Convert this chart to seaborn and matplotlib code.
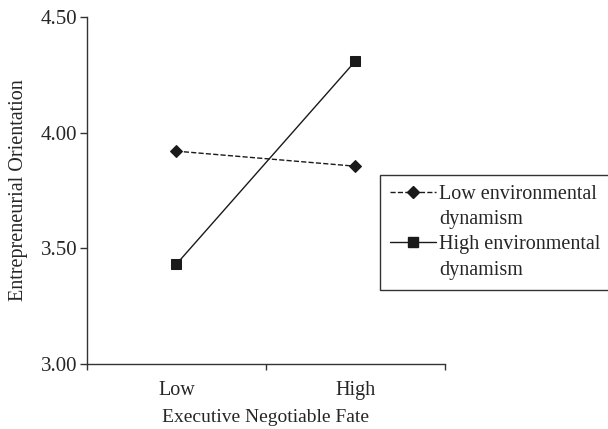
import matplotlib
matplotlib.use("Agg")
import matplotlib.pyplot as plt
from matplotlib.lines import Line2D
import pandas as pd
import seaborn as sns

fate_levels = ["Low", "High"]
dynamism_groups = ["Low environmental dynamism", "High environmental dynamism"]
low_dynamism_eo = [3.92, 3.855]
high_dynamism_eo = [3.432, 4.31]
y_ticks = [3.00, 3.50, 4.00, 4.50]

df = pd.DataFrame({
    "fate": fate_levels * 2,
    "dynamism": [dynamism_groups[0]] * 2 + [dynamism_groups[1]] * 2,
    "eo": low_dynamism_eo + high_dynamism_eo,
})

sns.set_style("ticks")
plt.rcParams["font.family"] = ["Liberation Serif", "DejaVu Serif"]
plt.rcParams["font.size"] = 14

fig = plt.figure(figsize=(6.08, 4.29), dpi=100)
ax = fig.add_axes([87 / 608, 65 / 429, 358 / 608, 347 / 429])

markers = ["D", "s"]
styles = ["--", "-"]
sns.pointplot(df, x="fate", y="eo", hue="dynamism", order=fate_levels, hue_order=dynamism_groups,
              palette=["#1a1a1a", "#1a1a1a"], markers=markers, linestyles=styles,
              linewidth=1, markersize=7, legend=False, ax=ax)
for line, m in zip(ax.lines, markers):
    line.set_markersize(6 if m == "D" else 7)

ax.set_xlim(-0.5, 1.5)
ax.set_ylim(3.0, 4.5)
ax.set_yticks(y_ticks)
ax.set_yticklabels([f"{v:.2f}" for v in y_ticks], fontsize=15)
ax.set_xticks([0, 1])
ax.set_xticklabels(fate_levels, fontsize=14.5)
ax.set_xticks([-0.5, 0.5, 1.5], minor=True)
ax.tick_params(axis="x", which="major", length=0, pad=12)
ax.tick_params(axis="x", which="minor", length=4, width=1, color="#333333")
ax.tick_params(axis="y", length=5, width=1, color="#333333", pad=2)
ax.set_xlabel("Executive Negotiable Fate", fontsize=14, labelpad=7)
ax.set_ylabel("Entrepreneurial Orientation", fontsize=14.5, labelpad=9)
sns.despine(ax=ax)
for s in ["left", "bottom"]:
    ax.spines[s].set_color("#333333")
    ax.spines[s].set_linewidth(1)

blank = Line2D([], [], linestyle="none", marker=None)
handles = [
    Line2D([], [], color="#1a1a1a", linestyle="--", linewidth=1, marker="D", markersize=6),
    blank,
    Line2D([], [], color="#1a1a1a", linestyle="-", linewidth=1, marker="s", markersize=7),
    blank,
]
labels = ["Low environmental", "dynamism", "High environmental", "dynamism"]
fig.legend(handles, labels, loc="upper left", bbox_to_anchor=(380 / 608, 1 - 175 / 429),
           frameon=True, fancybox=False, edgecolor="#333333", framealpha=1,
           fontsize=14.5, handlelength=2.3, handletextpad=0.15, labelspacing=0.3,
           borderpad=0.5, borderaxespad=0)

fig.savefig("out.png", dpi=100)
